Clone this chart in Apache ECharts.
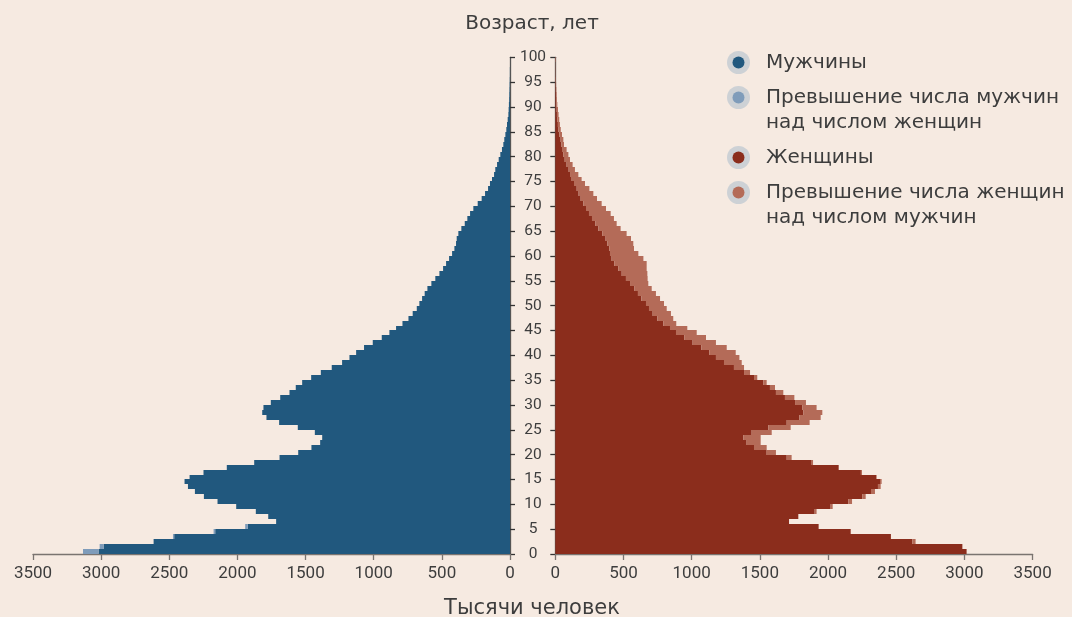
<!DOCTYPE html>
<html><head><meta charset="utf-8">
<script src="https://cdn.jsdelivr.net/npm/echarts@6/dist/echarts.min.js"></script>
<style>html,body{margin:0;padding:0;background:#F6EAE1;}#c{width:1072px;height:617px;}</style>
</head><body><div id="c"></div>
<script>
// Age of each bar (one-year groups, bar spans [age, age+1])
const ages = [0,1,2,3,4,5,6,7,8,9,10,11,12,13,14,15,16,17,18,19,20,21,22,23,24,25,26,27,28,29,30,31,32,33,34,35,36,37,38,39,40,41,42,43,44,45,46,47,48,49,50,51,52,53,54,55,56,57,58,59,60,61,62,63,64,65,66,67,68,69,70,71,72,73,74,75,76,77,78,79,80,81,82,83,84,85,86,87,88,89,90,91,92,93,94,95,96,97,98,99];
// thousands of people
const menShared = [3019,2982,2615,2464,2163,1924,1716,1774,1865,2009,2146,2246,2312,2363,2388,2351,2249,2078,1877,1691,1554,1457,1393,1378,1432,1557,1694,1787,1818,1809,1755,1686,1618,1572,1525,1459,1388,1308,1232,1178,1129,1071,1007,941,885,836,789,745,714,684,665,645,626,606,577,548,518,491,469,447,425,408,396,391,379,357,332,313,293,269,237,208,183,161,147,132,117,108,95,83,71,59,49,42,34,27,22,17,12,10,8,6,5,4,3,2,1,1,0,0];
const menExcess = [114,29,0,9,12,19,0,0,0,0,0,0,0,0,0,0,0,0,0,0,0,0,0,0,0,0,0,0,0,0,0,0,0,0,0,0,0,0,0,0,0,0,0,0,0,0,0,0,0,0,0,0,0,0,0,0,0,0,0,0,0,0,0,0,0,0,0,0,0,0,0,0,0,0,0,0,0,0,0,0,0,0,0,0,0,0,0,0,0,0,0,0,0,0,0,0,0,0,0,0];
const womenShared = [3016,2985,2618,2461,2166,1931,1714,1782,1902,2019,2149,2251,2315,2366,2381,2352,2241,2078,1880,1697,1550,1457,1403,1379,1440,1562,1697,1789,1819,1811,1758,1684,1618,1574,1525,1457,1384,1310,1237,1178,1129,1071,1007,946,885,841,792,748,714,687,665,631,606,580,548,518,487,462,433,413,401,396,382,369,345,316,294,269,247,225,206,186,171,157,137,120,108,98,83,69,59,49,44,39,30,23,19,15,12,10,8,6,5,4,3,2,1,1,0,0];
const womenExcess = [0,0,24,0,0,0,0,0,14,15,27,25,29,20,12,5,8,0,10,36,68,93,103,127,147,164,168,157,139,105,80,69,54,37,25,24,44,74,130,172,194,186,171,159,152,127,95,117,134,130,132,137,132,127,134,159,188,208,237,233,208,181,190,186,178,163,156,161,159,147,134,120,108,93,81,73,61,46,44,39,37,34,20,20,19,17,15,14,12,10,7,6,5,4,3,3,2,2,2,4];
const xTicks = [0,500,1000,1500,2000,2500,3000,3500];
const yTicks = [0,5,10,15,20,25,30,35,40,45,50,55,60,65,70,75,80,85,90,95,100];
const seriesNames = ['Мужчины','Превышение числа мужчин\nнад числом женщин','Женщины','Превышение числа женщин\nнад числом мужчин'];
const colors = ['#21587E','#7F9CBA','#8B2D1C','#B46B58'];

const TXT = '#3d3d3d';
const TICKFONT = 'Roboto';
const LFONT = '20px "DejaVu Sans"';

function renderBar(params, api) {
  const a = api.value(0), b = api.value(1), age = api.value(2);
  if (b - a <= 0) return null;
  const p1 = api.coord([a, age]);
  const p2 = api.coord([b, age + 1]);
  const top = Math.round(Math.min(p1[1], p2[1]));
  const bot = Math.round(Math.max(p1[1], p2[1]));
  const l = Math.min(p1[0], p2[0]), r = Math.max(p1[0], p2[0]);
  return {type: 'rect', shape: {x: l, y: top, width: r - l, height: bot - top}, style: {fill: api.visual('color')}};
}
function mk(name, color, idx, shared, extra, isExcess) {
  return {
    type: 'custom', name: name, xAxisIndex: idx, yAxisIndex: idx,
    renderItem: renderBar, itemStyle: {color: color},
    encode: {x: [0, 1], y: 2},
    data: ages.map((age, i) => isExcess ? [shared[i], shared[i] + extra[i], age] : [0, shared[i], age]),
    animation: false
  };
}

const chart = echarts.init(document.getElementById('c'), null, {renderer: 'canvas'});
const xAxisCommon = {
  type: 'value', min: xTicks[0], max: xTicks[xTicks.length - 1], interval: xTicks[1] - xTicks[0],
  axisLine: {show: true, lineStyle: {color: '#7a7470', width: 1.3}},
  axisTick: {show: true, length: 6, lineStyle: {color: '#7a7470', width: 1.3}},
  axisLabel: {color: TXT, fontFamily: TICKFONT, fontSize: 17, margin: 11, formatter: v => String(v)},
  splitLine: {show: false}
};
const yAxisCommon = {
  type: 'value', min: yTicks[0], max: yTicks[yTicks.length - 1], interval: yTicks[1] - yTicks[0],
  axisLine: {show: true, onZero: false, lineStyle: {color: '#555', width: 1.3}},
  axisTick: {show: true, length: 5, lineStyle: {color: '#333', width: 1.3}},
  splitLine: {show: false}
};
chart.setOption({
  backgroundColor: '#F6EAE1',
  animation: false,
  grid: [
    {left: 33, right: 562, top: 57.3, bottom: 63, containLabel: false},
    {left: 555.3, right: 39.4, top: 57.3, bottom: 63, containLabel: false}
  ],
  xAxis: [
    Object.assign({}, xAxisCommon, {gridIndex: 0, inverse: true}),
    Object.assign({}, xAxisCommon, {gridIndex: 1})
  ],
  yAxis: [
    Object.assign({}, yAxisCommon, {gridIndex: 0, position: 'right',
      axisLabel: {show: true, color: TXT, fontFamily: TICKFONT, fontSize: 15.5, margin: 23, align: 'center', formatter: v => String(v)}}),
    Object.assign({}, yAxisCommon, {gridIndex: 1, position: 'left', axisLabel: {show: false}})
  ],
  series: [
    mk(seriesNames[0], colors[0], 0, menShared, menExcess, false),
    mk(seriesNames[1], colors[1], 0, menShared, menExcess, true),
    mk(seriesNames[2], colors[2], 1, womenShared, womenExcess, false),
    mk(seriesNames[3], colors[3], 1, womenShared, womenExcess, true)
  ],
  graphic: [
    {type: 'text', x: 532, y: 24, style: {text: 'Возраст, лет', fill: TXT, font: LFONT, align: 'center', verticalAlign: 'middle'}},
    {type: 'text', x: 532, y: 609, style: {text: 'Тысячи человек', fill: TXT, font: '21px "DejaVu Sans"', align: 'center', verticalAlign: 'middle'}},
    // legend
    {type: 'group', left: 727, top: 51, children: [
      {type: 'circle', shape: {cx: 12, cy: 12, r: 11.5}, style: {fill: '#CDD1D5'}},
      {type: 'circle', shape: {cx: 12, cy: 12, r: 6}, style: {fill: colors[0]}},
      {type: 'text', x: 39.5, y: 12, style: {text: seriesNames[0], fill: TXT, font: LFONT, verticalAlign: 'middle'}},

      {type: 'circle', shape: {cx: 12, cy: 47, r: 11.5}, style: {fill: '#CDD1D5'}},
      {type: 'circle', shape: {cx: 12, cy: 47, r: 6}, style: {fill: colors[1]}},
      {type: 'text', x: 39.5, y: 34.5, style: {text: seriesNames[1], fill: TXT, font: LFONT, lineHeight: 25.5, verticalAlign: 'top'}},

      {type: 'circle', shape: {cx: 12, cy: 107, r: 11.5}, style: {fill: '#CDD1D5'}},
      {type: 'circle', shape: {cx: 12, cy: 107, r: 6}, style: {fill: colors[2]}},
      {type: 'text', x: 39.5, y: 107, style: {text: seriesNames[2], fill: TXT, font: LFONT, verticalAlign: 'middle'}},

      {type: 'circle', shape: {cx: 12, cy: 142, r: 11.5}, style: {fill: '#CDD1D5'}},
      {type: 'circle', shape: {cx: 12, cy: 142, r: 6}, style: {fill: colors[3]}},
      {type: 'text', x: 39.5, y: 129.5, style: {text: seriesNames[3], fill: TXT, font: LFONT, lineHeight: 25.5, verticalAlign: 'top'}}
    ]}
  ]
});
</script>
</body></html>
